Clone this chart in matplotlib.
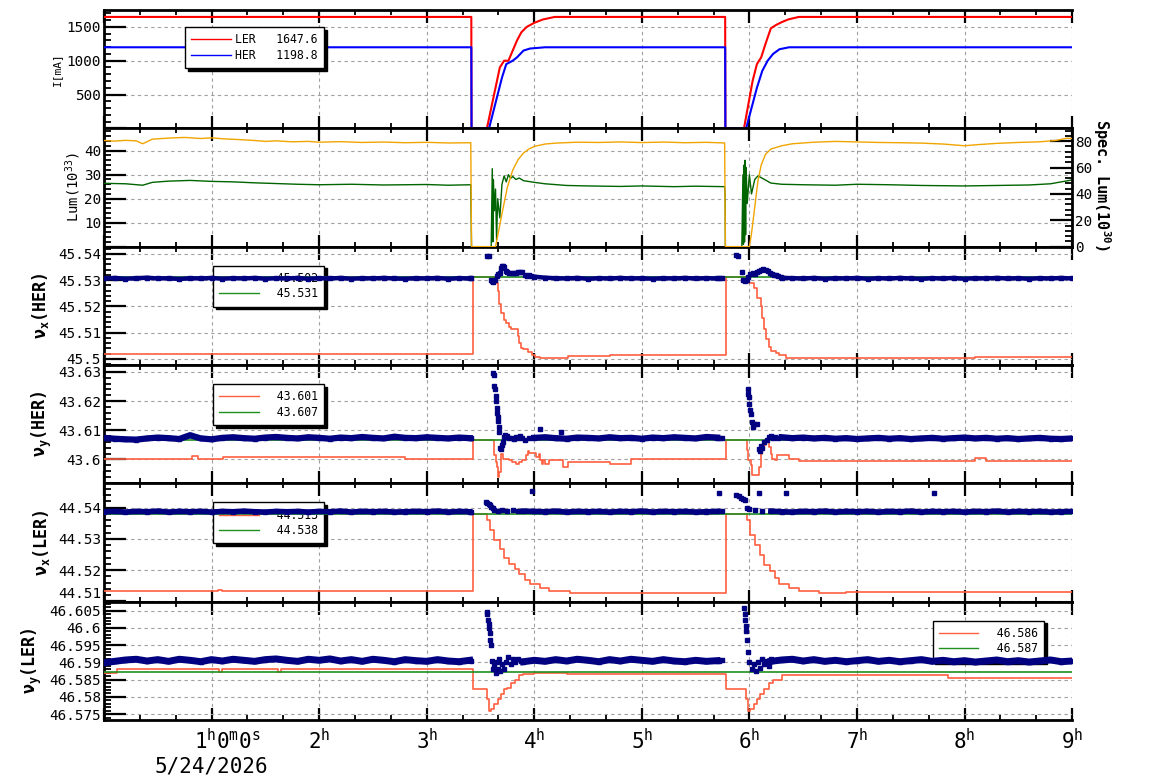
import numpy as np
import matplotlib

matplotlib.use('Agg')
from matplotlib import pyplot as plt
from matplotlib.ticker import MultipleLocator, FixedLocator, FixedFormatter, FuncFormatter
from matplotlib.lines import Line2D
import matplotlib.transforms as mtrans

nan = np.nan

plt.rcParams['font.family'] = ['DejaVu Sans Mono', 'DejaVu Sans']
plt.rcParams['mathtext.fontset'] = 'custom'
plt.rcParams['mathtext.rm'] = 'DejaVu Sans Mono'
plt.rcParams['mathtext.it'] = 'DejaVu Sans Mono:italic'
plt.rcParams['mathtext.bf'] = 'DejaVu Sans Mono:bold'

# ---------------- data (time in hours from 0:00, 5/24/2026) ----------------
x_ticks = [0, 1, 2, 3, 4, 5, 6, 7, 8, 9]
x_labels = ['', r'$1^{\mathrm{h}}0^{\mathrm{m}}0^{\mathrm{s}}$', r'$2^{\mathrm{h}}$', r'$3^{\mathrm{h}}$',
            r'$4^{\mathrm{h}}$', r'$5^{\mathrm{h}}$', r'$6^{\mathrm{h}}$', r'$7^{\mathrm{h}}$',
            r'$8^{\mathrm{h}}$', r'$9^{\mathrm{h}}$']
date_label = '5/24/2026'

# beam currents [mA]
ler_t = [0.0, 3.415, 3.417, 3.56, 3.60, 3.64, 3.68, 3.72, 3.76, 3.80, 3.84, 3.88, 3.93, 4.00, 4.08, 4.19,
         5.775, 5.777, 5.95, 5.99, 6.03, 6.07, 6.11, 6.15, 6.20, 6.25, 6.30, 6.36, 6.46, 9.0]
ler_I = [1647.6, 1647.6, 0, 0, 300, 600, 900, 1000, 1000, 1150, 1300, 1420, 1500, 1560, 1610, 1647.6,
         1647.6, 0, 0, 350, 700, 950, 1050, 1250, 1480, 1530, 1570, 1610, 1647.6, 1647.6]
her_t = [0.0, 3.415, 3.417, 3.58, 3.62, 3.66, 3.70, 3.74, 3.80, 3.84, 3.90, 3.96, 4.10,
         5.775, 5.777, 5.97, 6.02, 6.07, 6.12, 6.17, 6.22, 6.28, 6.37, 9.0]
her_I = [1198.8, 1198.8, 0, 0, 250, 500, 750, 950, 1000, 1050, 1150, 1180, 1198.8,
         1198.8, 0, 0, 300, 600, 850, 1000, 1100, 1170, 1198.8, 1198.8]

# luminosity (left, 1e33) and specific luminosity (right, 1e30)
lum_t = [0.0, 0.2, 0.36, 0.45, 0.6, 0.8, 1.0, 1.2, 1.4, 1.6, 1.8, 2.0, 2.3, 2.6, 3.0, 3.2, 3.41, 3.417,
         3.60, 3.61, 3.615, 3.62, 3.63, 3.64, 3.65, 3.66, 3.68, 3.70, 3.72, 3.74, 3.76, 3.78, 3.80, 3.83,
         3.86, 3.9, 4.0, 4.1, 4.3, 4.5, 4.8, 5.0, 5.3, 5.5, 5.77, 5.775, 5.777, 5.93, 5.94, 5.945, 5.95,
         5.955, 5.96, 5.965, 5.97, 5.98, 6.0, 6.02, 6.05, 6.08, 6.12, 6.16, 6.2, 6.3, 6.5, 6.8, 7.0, 7.3,
         7.6, 8.0, 8.3, 8.6, 8.8, 8.9, 9.0]
lum_v = [26.4, 26.2, 25.6, 26.8, 27.3, 27.6, 27.2, 27.0, 26.6, 26.3, 26.0, 25.8, 26.0, 25.7, 25.9, 25.6, 25.8, 0,
         0, 32.5, 2, 28, 15, 24, 3, 20, 12, 26, 29.5, 27, 30.0, 28.5, 29.2, 28.0,
         28.6, 27.5, 26.8, 26.2, 25.5, 25.3, 25.1, 25.3, 25.0, 25.2, 25.0, 21, 0, 0, 30, 1, 34,
         2, 36, 5, 33, 18, 30, 22, 28, 29.5, 28.5, 27.5, 26.5, 26.0, 25.8, 25.6, 26.0, 25.8,
         25.5, 25.3, 25.5, 25.7, 26.2, 27.0, 27.8]
spec_t = [0.0, 0.1, 0.2, 0.3, 0.36, 0.45, 0.6, 0.75, 0.9, 1.0, 1.1, 1.25, 1.4, 1.5, 1.6, 1.75, 1.9, 2.0, 2.2,
          2.4, 2.6, 2.8, 3.0, 3.2, 3.41, 3.417, 3.64, 3.66, 3.70, 3.75, 3.80, 3.85, 3.9, 3.95, 4.0, 4.1,
          4.2, 4.4, 4.6, 4.8, 5.0, 5.2, 5.4, 5.6, 5.77, 5.777, 6.0, 6.02, 6.05, 6.08, 6.11, 6.15, 6.2, 6.3,
          6.4, 6.6, 6.8, 7.0, 7.2, 7.4, 7.6, 7.8, 8.0, 8.1, 8.3, 8.5, 8.7, 8.85, 8.95, 9.0]
spec_v = [80.5, 80.0, 80.6, 80.2, 78.0, 81.5, 82.3, 82.8, 82.0, 82.5, 81.8, 81.2, 80.5, 79.8, 80.2, 79.5, 79.8,
          79.2, 79.6, 79.0, 79.3, 78.8, 79.1, 78.6, 78.8, 0, 0, 8, 25, 45, 58, 66, 71, 74, 76, 77.8,
          78.5, 79.2, 79.0, 79.4, 78.9, 79.3, 78.8, 79.1, 78.6, 0, 0, 10, 30, 50, 62, 70, 74, 76.5,
          78.0, 79.2, 79.8, 79.4, 79.0, 78.8, 78.5, 77.8, 76.5, 77.2, 78.3, 79.0, 79.5, 80.5, 82.2, 82.0]

# tune set values (red, step) and references (green)
nux_her_set_t = [0, 3.43, 3.645, 3.66, 3.675, 3.69, 3.72, 3.74, 3.77, 3.785, 3.85, 3.86, 3.88, 3.90, 3.94,
                 3.98, 4.01, 4.05, 4.31, 4.70, 5.78, 6.0, 6.045, 6.075, 6.107, 6.122, 6.137, 6.153, 6.178,
                 6.2, 6.246, 6.277, 6.339, 8.1, 9.0]
nux_her_set = [45.5019, 45.5312, 45.5290, 45.5259, 45.5209, 45.5176, 45.5150, 45.5138, 45.5122, 45.5113,
               45.5087, 45.5060, 45.5043, 45.5037, 45.5028, 45.5015, 45.5008, 45.5005, 45.5010, 45.5015,
               45.5312, 45.5290, 45.5271, 45.5233, 45.5202, 45.5157, 45.5113, 45.5075, 45.5046, 45.5030,
               45.5024, 45.5015, 45.5005, 45.5007, 45.5007]
nux_her_ref = 45.531

nuy_her_set_t = [0, 0.82, 0.87, 1.11, 2.8, 3.43, 3.63, 3.64, 3.65, 3.66, 3.677, 3.69, 3.708, 3.77, 3.79,
                 3.83, 3.86, 3.89, 3.92, 3.94, 3.955, 4.02, 4.04, 4.055, 4.07, 4.08, 4.10, 4.14, 4.265,
                 4.31, 4.70, 4.90, 5.78, 5.975, 5.99, 6.013, 6.025, 6.035, 6.09, 6.105, 6.12, 6.15, 6.18,
                 6.20, 6.215, 6.24, 6.26, 6.31, 6.37, 6.46, 8.1, 8.2, 9.0]
nuy_her_set = [43.6000, 43.6012, 43.6000, 43.6010, 43.6000, 43.6065, 43.6014, 43.5990, 43.5974, 43.5940,
               43.5957, 43.6019, 43.6002, 43.5997, 43.5990, 43.5985, 43.5991, 43.5997, 43.6014, 43.6028,
               43.6022, 43.6008, 43.6017, 43.5997, 43.5983, 43.5997, 43.5983, 43.5997, 43.5974, 43.5991,
               43.5985, 43.6000, 43.6065, 43.6033, 43.5997, 43.5980, 43.5948, 43.5948, 43.5974, 43.6019,
               43.6048, 43.6061, 43.6042, 43.6019, 43.6002, 43.5997, 43.6014, 43.6014, 43.6002, 43.5993,
               43.6005, 43.5993, 43.5993]
nuy_her_ref = 43.6066

nux_ler_set_t = [0, 1.06, 1.10, 3.43, 3.565, 3.585, 3.63, 3.68, 3.72, 3.77, 3.82, 3.86, 3.91, 3.96, 4.05,
                 4.14, 4.33, 4.6, 5.78, 5.98, 6.01, 6.05, 6.10, 6.14, 6.19, 6.24, 6.28, 6.37, 6.46, 6.65,
                 6.9, 9.0]
nux_ler_set = [44.5134, 44.5137, 44.5134, 44.5381, 44.5360, 44.5327, 44.5295, 44.5269, 44.5240, 44.5221,
               44.5205, 44.5186, 44.5167, 44.5154, 44.5144, 44.5134, 44.5128, 44.5127, 44.5381, 44.5360,
               44.5313, 44.5282, 44.5250, 44.5218, 44.5196, 44.5176, 44.5157, 44.5144, 44.5134, 44.5128,
               44.5130, 44.5130]
nux_ler_ref = 44.5381

nuy_ler_set_t = [0, 0.12, 1.07, 1.10, 1.62, 1.65, 3.43, 3.56, 3.58, 3.60, 3.63, 3.66, 3.69, 3.72, 3.75,
                 3.78, 3.82, 3.86, 3.9, 4.0, 4.3, 5.78, 5.97, 5.99, 6.01, 6.04, 6.07, 6.10, 6.14, 6.18,
                 6.22, 6.3, 6.5, 7.85, 9.0]
nuy_ler_set = [46.5870, 46.5881, 46.5872, 46.5881, 46.5872, 46.5881, 46.5822, 46.5793, 46.5758, 46.5764,
               46.5778, 46.5793, 46.5807, 46.5822, 46.5827, 46.5840, 46.5850, 46.5862, 46.5865, 46.5868,
               46.5865, 46.5822, 46.5793, 46.5758, 46.5764, 46.5778, 46.5793, 46.5807, 46.5822, 46.5840,
               46.5850, 46.5862, 46.5862, 46.5855, 46.5855]
nuy_ler_ref = 46.5871

# measured tunes: regular samples every 0.1 h, nan while beam is off / injecting
band_t = [0.0, 0.1, 0.2, 0.3, 0.4, 0.5, 0.6, 0.7, 0.8, 0.9, 1.0, 1.1, 1.2, 1.3, 1.4, 1.5, 1.6, 1.7, 1.8, 1.9,
          2.0, 2.1, 2.2, 2.3, 2.4, 2.5, 2.6, 2.7, 2.8, 2.9, 3.0, 3.1, 3.2, 3.3, 3.4, 3.5, 3.6, 3.7, 3.8, 3.9,
          4.0, 4.1, 4.2, 4.3, 4.4, 4.5, 4.6, 4.7, 4.8, 4.9, 5.0, 5.1, 5.2, 5.3, 5.4, 5.5, 5.6, 5.7, 5.8, 5.9,
          6.0, 6.1, 6.2, 6.3, 6.4, 6.5, 6.6, 6.7, 6.8, 6.9, 7.0, 7.1, 7.2, 7.3, 7.4, 7.5, 7.6, 7.7, 7.8, 7.9,
          8.0, 8.1, 8.2, 8.3, 8.4, 8.5, 8.6, 8.7, 8.8, 8.9, 9.0]
nux_her_band = [45.5306, 45.5308, 45.5305, 45.5307, 45.5309, 45.5306, 45.5307, 45.5304, 45.5307, 45.5306,
                45.5308, 45.5305, 45.5307, 45.5306, 45.5308, 45.5305, 45.5307, 45.5306, 45.5308, 45.5305,
                45.5307, 45.5306, 45.5308, 45.5305, 45.5307, 45.5306, 45.5308, 45.5306, 45.5305, 45.5307,
                45.5306, 45.5308, 45.5305, 45.5307, 45.5306, nan, nan, nan, nan, nan,
                45.5313, 45.5309, 45.5307, 45.5306, 45.5308, 45.5305, 45.5307, 45.5306, 45.5308, 45.5306,
                45.5307, 45.5305, 45.5307, 45.5306, 45.5308, 45.5306, 45.5307, 45.5306, nan, nan,
                nan, nan, nan, 45.5309, 45.5307, 45.5306, 45.5308, 45.5305, 45.5307, 45.5306,
                45.5308, 45.5305, 45.5307, 45.5306, 45.5308, 45.5306, 45.5305, 45.5307, 45.5306, 45.5308,
                45.5305, 45.5307, 45.5306, 45.5308, 45.5306, 45.5307, 45.5305, 45.5307, 45.5306, 45.5308,
                45.5306]
nuy_her_band = [43.6074, 43.6071, 43.6069, 43.6068, 43.6072, 43.6075, 43.6073, 43.6070, 43.6083, 43.6072,
                43.6069, 43.6074, 43.6076, 43.6073, 43.6071, 43.6075, 43.6077, 43.6074, 43.6072, 43.6076,
                43.6074, 43.6071, 43.6075, 43.6073, 43.6077, 43.6074, 43.6072, 43.6078, 43.6074, 43.6073,
                43.6076, 43.6074, 43.6072, 43.6075, 43.6073, nan, nan, nan, nan, nan,
                43.6074, 43.6076, 43.6073, 43.6071, 43.6075, 43.6074, 43.6072, 43.6076, 43.6073, 43.6074,
                43.6071, 43.6075, 43.6073, 43.6076, 43.6074, 43.6072, 43.6077, 43.6075, nan, nan,
                nan, nan, nan, 43.6076, 43.6073, 43.6075, 43.6072, 43.6074, 43.6071, 43.6073,
                43.6070, 43.6072, 43.6074, 43.6071, 43.6073, 43.6070, 43.6072, 43.6074, 43.6071, 43.6073,
                43.6075, 43.6072, 43.6074, 43.6071, 43.6073, 43.6070, 43.6072, 43.6074, 43.6071, 43.6070,
                43.6072]
nux_ler_band = [44.5387, 44.5388, 44.5386, 44.5388, 44.5387, 44.5389, 44.5386, 44.5388, 44.5387, 44.5388,
                44.5386, 44.5388, 44.5387, 44.5389, 44.5387, 44.5386, 44.5388, 44.5387, 44.5388, 44.5386,
                44.5388, 44.5387, 44.5389, 44.5386, 44.5388, 44.5387, 44.5388, 44.5386, 44.5387, 44.5388,
                44.5387, 44.5389, 44.5386, 44.5388, 44.5387, nan, nan, nan, nan, 44.5389,
                44.5388, 44.5387, 44.5389, 44.5386, 44.5388, 44.5387, 44.5388, 44.5386, 44.5388, 44.5387,
                44.5389, 44.5386, 44.5388, 44.5387, 44.5388, 44.5386, 44.5387, 44.5388, nan, nan,
                nan, nan, 44.5389, 44.5387, 44.5386, 44.5388, 44.5387, 44.5389, 44.5386, 44.5388,
                44.5387, 44.5388, 44.5386, 44.5388, 44.5387, 44.5389, 44.5386, 44.5388, 44.5387, 44.5388,
                44.5386, 44.5388, 44.5387, 44.5389, 44.5386, 44.5388, 44.5387, 44.5388, 44.5386, 44.5387,
                44.5388]
nuy_ler_band = [46.5899, 46.5903, 46.5907, 46.5909, 46.5904, 46.5908, 46.5903, 46.5909, 46.5906, 46.5902,
                46.5908, 46.5904, 46.5909, 46.5906, 46.5903, 46.5908, 46.5910, 46.5906, 46.5903, 46.5909,
                46.5906, 46.5910, 46.5904, 46.5908, 46.5903, 46.5909, 46.5906, 46.5902, 46.5908, 46.5905,
                46.5903, 46.5908, 46.5904, 46.5902, 46.5906, nan, nan, nan, nan, 46.5902,
                46.5906, 46.5903, 46.5908, 46.5904, 46.5909, 46.5906, 46.5902, 46.5908, 46.5904, 46.5909,
                46.5906, 46.5903, 46.5908, 46.5904, 46.5902, 46.5906, 46.5903, 46.5905, nan, nan,
                nan, nan, 46.5903, 46.5907, 46.5909, 46.5904, 46.5908, 46.5903, 46.5906, 46.5902,
                46.5905, 46.5908, 46.5903, 46.5906, 46.5902, 46.5905, 46.5908, 46.5903, 46.5906, 46.5902,
                46.5905, 46.5901, 46.5904, 46.5907, 46.5902, 46.5905, 46.5901, 46.5904, 46.5907, 46.5902,
                46.5904]

# scattered measurements around the two injections
nux_her_pts_t = [3.41, 3.565, 3.575, 3.595, 3.61, 3.62, 3.635, 3.65, 3.665, 3.68, 3.69, 3.70, 3.71, 3.72,
                 3.735, 3.75, 3.77, 3.79, 3.81, 3.83, 3.85, 3.87, 3.89, 3.91, 3.93, 3.95, 3.97, 5.72, 5.75,
                 5.88, 5.895, 5.93, 5.945, 5.96, 5.975, 5.99, 6.01, 6.03, 6.05, 6.07, 6.09, 6.11, 6.13,
                 6.15, 6.17, 6.19, 6.21, 6.23, 6.25, 6.27, 6.29]
nux_her_pts = [45.5307, 45.5392, 45.5390, 45.5302, 45.5298, 45.5294, 45.5300, 45.5316, 45.5322, 45.5328,
               45.5345, 45.5352, 45.5355, 45.5349, 45.5335, 45.5330, 45.5327, 45.5326, 45.5328, 45.5325,
               45.5330, 45.5331, 45.5329, 45.5320, 45.5316, 45.5318, 45.5314, 45.5307, 45.5306,
               45.5395, 45.5393, 45.5330, 45.5300, 45.5295, 45.5302, 45.5310, 45.5322, 45.5325, 45.5324,
               45.5330, 45.5336, 45.5340, 45.5342, 45.5338, 45.5335, 45.5326, 45.5322, 45.5318, 45.5320,
               45.5316, 45.5312]
nuy_her_pts_t = [3.41, 3.62, 3.625, 3.63, 3.635, 3.64, 3.645, 3.65, 3.655, 3.66, 3.665, 3.67, 3.675, 3.68,
                 3.69, 3.70, 3.71, 3.72, 3.73, 3.75, 3.77, 3.79, 3.81, 3.83, 3.85, 3.87, 3.89, 3.91, 3.95,
                 4.05, 4.25, 5.72, 5.75, 5.985, 5.99, 5.995, 6.00, 6.01, 6.015, 6.02, 6.03, 6.04, 6.075,
                 6.09, 6.10, 6.11, 6.12, 6.14, 6.16, 6.18, 6.20, 6.22, 6.24, 6.27]
nuy_her_pts = [43.6073, 43.6295, 43.6290, 43.6253, 43.6240, 43.6218, 43.6200, 43.6178, 43.6161, 43.6145,
               43.6133, 43.6110, 43.6093, 43.6040, 43.6035, 43.6048, 43.6060, 43.6078, 43.6085, 43.6082,
               43.6075, 43.6072, 43.6070, 43.6078, 43.6075, 43.6080, 43.6072, 43.6068, 43.6074,
               43.6105, 43.6093, 43.6074, 43.6073, 43.6241, 43.6225, 43.6213, 43.6190, 43.6170, 43.6156,
               43.6127, 43.6110, 43.6120, 43.6122, 43.6037, 43.6030, 43.6045, 43.6040, 43.6060, 43.6068,
               43.6076, 43.6080, 43.6074, 43.6078, 43.6075]
nux_ler_pts_t = [3.41, 3.555, 3.565, 3.575, 3.585, 3.60, 3.615, 3.63, 3.66, 3.70, 3.75, 3.80, 3.85, 3.98,
                 5.72, 5.75, 5.88, 5.90, 5.92, 5.94, 5.96, 5.98, 6.00, 6.05, 6.09, 6.12, 6.34, 7.72]
nux_ler_pts = [44.5387, 44.5418, 44.5414, 44.5411, 44.5407, 44.5402, 44.5398, 44.5394, 44.5390, 44.5392,
               44.5389, 44.5391, 44.5388, 44.5455, 44.5446, 44.5388, 44.5442, 44.5438, 44.5432, 44.5428,
               44.5424, 44.5400, 44.5395, 44.5392, 44.5446, 44.5390, 44.5446, 44.5446]
nuy_ler_pts_t = [3.41, 3.56, 3.565, 3.57, 3.575, 3.58, 3.585, 3.59, 3.60, 3.61, 3.62, 3.63, 3.64, 3.65,
                 3.66, 3.67, 3.68, 3.70, 3.72, 3.74, 3.76, 3.78, 3.80, 3.82, 3.85, 3.88, 5.72, 5.75,
                 5.95, 5.955, 5.96, 5.965, 5.97, 5.98, 5.99, 6.00, 6.02, 6.04, 6.06, 6.08, 6.10, 6.12,
                 6.14, 6.16, 6.18, 6.20]
nuy_ler_pts = [46.5905, 46.6046, 46.6040, 46.6023, 46.6010, 46.6000, 46.5985, 46.5965, 46.5950, 46.5905,
               46.5880, 46.5890, 46.5870, 46.5900, 46.5880, 46.5910, 46.5875, 46.5895, 46.5880, 46.5900,
               46.5915, 46.5895, 46.5910, 46.5900, 46.5910, 46.5905, 46.5905, 46.5906,
               46.6057, 46.6040, 46.6023, 46.6005, 46.5990, 46.5965, 46.5930, 46.5900, 46.5880, 46.5895,
               46.5875, 46.5900, 46.5885, 46.5910, 46.5895, 46.5905, 46.5890, 46.5910]

# ---------------- figure ----------------
RED = '#ff0000'
BLUE = '#0000ff'
ORANGE = '#f0a500'
DKGREEN = '#006400'
NAVY = '#000080'
GREEN = '#1f8f1f'
TOMATO = '#ff5f3f'
GRID = '#a0a0a0'

fig, axes = plt.subplots(6, 1, sharex=True, figsize=(11.54, 7.82), dpi=100)
fig.subplots_adjust(left=0.0901, right=0.929, top=0.9872, bottom=0.0793, hspace=0)


def tick_fmt(shown):
    def f(v, pos):
        for s in shown:
            if abs(v - s) < 1e-7:
                return '%g' % round(v, 4)
        return ''
    return FuncFormatter(f)


def style(ax, ylim, ymaj, ymin, shown):
    ax.set_ylim(*ylim)
    ax.yaxis.set_major_locator(MultipleLocator(ymaj))
    ax.yaxis.set_minor_locator(MultipleLocator(ymin))
    ax.yaxis.set_major_formatter(tick_fmt(shown))
    ax.tick_params(axis='y', which='major', direction='in', length=16, width=1.6, labelsize=10.3, pad=2,
                   right=False)
    ax.tick_params(axis='y', which='minor', direction='in', length=5, width=1.3, right=False)
    ax.tick_params(axis='x', which='major', direction='in', length=9, width=1.6, top=True, labelsize=15, pad=6)
    ax.tick_params(axis='x', which='minor', direction='in', length=3.5, width=1.3, top=True)
    ax.grid(True, which='major', color=GRID, linestyle=(0, (3, 3)), linewidth=0.8)
    for s in ['left', 'top', 'bottom']:
        ax.spines[s].set_linewidth(2)
    ax.spines['right'].set_visible(False)


def ylabel(ax, text, x, size, weight='normal'):
    ax.text(x, 0.5, text, transform=ax.transAxes, rotation=90, ha='center', va='center',
            fontsize=size, fontweight=weight)


def legend(ax, colors, labels, x, y, z):
    handles = [Line2D([], [], color=c, lw=1.0) for c in colors]
    leg = ax.legend(handles, labels, loc='upper left', bbox_to_anchor=(x, y), borderaxespad=0,
                    prop={'family': 'DejaVu Sans Mono', 'size': 8.3}, handlelength=3.4, handletextpad=0.4,
                    fancybox=False, edgecolor='black', framealpha=1, borderpad=0.55, labelspacing=0.2,
                    shadow={'color': 'black', 'alpha': 1})
    leg.get_frame().set_linewidth(1.0)
    leg.set_zorder(z)
    return leg


ax1, ax2, ax3, ax4, ax5, ax6 = axes

# panel 1: currents
ax1.plot(ler_t, ler_I, color=RED, lw=1.5, zorder=3)
ax1.plot(her_t, her_I, color=BLUE, lw=1.5, zorder=3)
style(ax1, (0, 1750), 500, 100, [500, 1000, 1500])
ylabel(ax1, 'I[mA]', -0.0486, 8)
legend(ax1, [RED, BLUE], ['LER   1647.6', 'HER   1198.8'], 0.0837, 0.856, 5)

# panel 2: luminosity
ax2r = ax2.twinx()
ax2.plot(lum_t, lum_v, color=DKGREEN, lw=1.0, zorder=3)
ax2r.plot(spec_t, spec_v, color=ORANGE, lw=1.0, zorder=3)
style(ax2, (0, 49.3), 10, 2, [10, 20, 30, 40])
ax2r.set_ylim(0, 89.7)
ax2r.yaxis.set_major_locator(MultipleLocator(20))
ax2r.yaxis.set_minor_locator(MultipleLocator(4))
ax2r.tick_params(axis='y', which='major', direction='in', length=16, width=1.6, labelsize=10.3, pad=2)
ax2r.tick_params(axis='y', which='minor', direction='in', length=5, width=1.3)
for s in ['left', 'top', 'bottom']:
    ax2r.spines[s].set_visible(False)
ax2r.spines['right'].set_linewidth(2)
ylabel(ax2, r'Lum(10$^{33}$)', -0.032, 10)
ax2r.text(1.031, 0.52, r'Spec. Lum(10$^{\mathbf{30}}$)', transform=ax2r.transAxes, rotation=-90,
          ha='center', va='center', fontsize=11, fontweight='bold')

# tune panels
tune_panels = [
    (ax3, nux_her_set_t, nux_her_set, nux_her_ref, nux_her_band, nux_her_pts_t, nux_her_pts,
     (45.4977, 45.5427), 0.01, 0.002, [45.50, 45.51, 45.52, 45.53, 45.54],
     'ν$_{\\mathbf{x}}$(HER)', -0.066, ['  45.502', '  45.531'], 0.1126, 0.839, 3.2),
    (ax4, nuy_her_set_t, nuy_her_set, nuy_her_ref, nuy_her_band, nuy_her_pts_t, nuy_her_pts,
     (43.5918, 43.6324), 0.01, 0.002, [43.60, 43.61, 43.62, 43.63],
     'ν$_{\\mathbf{y}}$(HER)', -0.064, ['  43.601', '  43.607'], 0.1126, 0.840, 4.5),
    (ax5, nux_ler_set_t, nux_ler_set, nux_ler_ref, nux_ler_band, nux_ler_pts_t, nux_ler_pts,
     (44.5099, 44.5478), 0.01, 0.002, [44.52, 44.53, 44.54],
     'ν$_{\\mathbf{x}}$(LER)', -0.065, ['  44.513', '  44.538'], 0.1126, 0.839, 4.0),
    (ax6, nuy_ler_set_t, nuy_ler_set, nuy_ler_ref, nuy_ler_band, nuy_ler_pts_t, nuy_ler_pts,
     (46.5733, 46.6076), 0.005, 0.001, [46.575, 46.58, 46.585, 46.59, 46.595, 46.6, 46.605],
     'ν$_{\\mathbf{y}}$(LER)', -0.074, ['  46.586', '  46.587'], 0.856, 0.840, 5.0),
]

for (ax, st, sv, ref, band, pt, pv, ylim, ymaj, ymin, shown, lab, lx, leglabels, lgx, lgy, blw) in tune_panels:
    ax.plot(st, sv, color=TOMATO, lw=1.2, drawstyle='steps-post', zorder=3)
    ax.axhline(ref, color=GREEN, lw=1.2, zorder=3)
    ax.plot(band_t, band, color=NAVY, lw=blw, marker='s', ms=3, zorder=4)
    ax.plot(pt, pv, color=NAVY, lw=0, marker='s', ms=3.5, zorder=4)
    style(ax, ylim, ymaj, ymin, shown)
    ylabel(ax, lab, lx, 12, 'bold')
    legend(ax, [TOMATO, GREEN], leglabels, lgx, lgy, 1.5)

# bottom label of the nu_x(LER) panel sits just above its lower edge
ax5.text(-0.003, 44.5101, '44.51', transform=mtrans.blended_transform_factory(ax5.transAxes, ax5.transData),
         ha='right', va='bottom', fontsize=10.3)

# time axis
ax6.set_xlim(0, 9)
ax6.xaxis.set_major_locator(FixedLocator(x_ticks))
ax6.xaxis.set_major_formatter(FixedFormatter(x_labels))
ax6.xaxis.set_minor_locator(MultipleLocator(1 / 3))
first = ax6.get_xticklabels()[1]
first.set_transform(first.get_transform() + mtrans.ScaledTranslation(0.16, 0, fig.dpi_scale_trans))
ax6.text(1, -0.31, date_label, transform=mtrans.blended_transform_factory(ax6.transData, ax6.transAxes),
         ha='center', va='top', fontsize=15)

fig.savefig('out.png', dpi=100)
